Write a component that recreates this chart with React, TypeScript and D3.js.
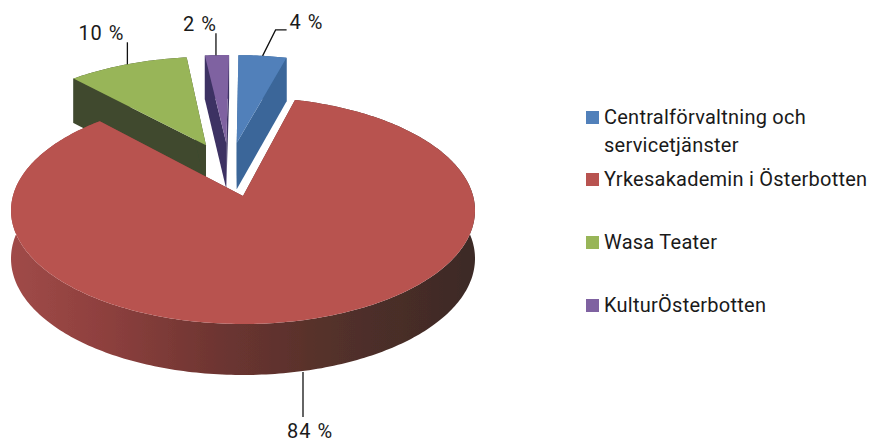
import React from "react";
import * as d3 from "d3";

const categories = ["Centralförvaltning och servicetjänster", "Yrkesakademin i Österbotten", "Wasa Teater", "KulturÖsterbotten"];
const legendLines = [["Centralförvaltning och", "servicetjänster"], ["Yrkesakademin i Österbotten"], ["Wasa Teater"], ["KulturÖsterbotten"]];
const shares = [4, 84, 10, 2];
const labels = ["4 %", "84 %", "10 %", "2 %"];
const topColors = ["#5180ba", "#b85350", "#98b558", "#7f62a1"];
const sideColors = ["#3a6699", "url(#redSide)", "#3f4a2e", "#3d3263"];
const legendY = [111, 173, 236, 299];

// projection parameters of the tilted, exploded disc
const W = 873, H = 445;
const CX = 243, CY = 210.5, RX = 232, RY = 113.5, K = 0.128;
const EXPLODE = 0.257, DEPTH = 51, FONT = "Roboto, 'Noto Sans', sans-serif";

const pie = d3.pie<number>().sort(null).startAngle((0.3 * Math.PI) / 180).endAngle((360.3 * Math.PI) / 180);
const arcs = pie(shares);
const mid = (a: d3.PieArcDatum<number>) => (a.startAngle + a.endAngle) / 2;
const redMid = mid(arcs[1]);

type P = [number, number];
const offset = (a: d3.PieArcDatum<number>): P => [
  EXPLODE * (Math.sin(mid(a)) - Math.sin(redMid)),
  EXPLODE * (Math.cos(mid(a)) - Math.cos(redMid)),
];
// unit-disc point -> screen point, with optional drop for the pie's thickness
const project = (u: number, v: number, drop = false): P => {
  const d = 1 + K * v;
  const x = CX + (RX * u * Math.sqrt(1 - K * K)) / d;
  const y = CY - (RY * (v + K)) / d;
  return [x, drop ? y + DEPTH * Math.sqrt((1 - K) / d) : y];
};
const rimPoint = (a: d3.PieArcDatum<number>, t: number, drop = false): P => {
  const [ou, ov] = offset(a);
  return project(ou + Math.sin(t), ov + Math.cos(t), drop);
};
const apex = (a: d3.PieArcDatum<number>, drop = false): P => {
  const [ou, ov] = offset(a);
  return project(ou, ov, drop);
};
const rim = (a: d3.PieArcDatum<number>, drop = false): P[] => {
  const n = Math.max(8, Math.ceil((a.endAngle - a.startAngle) * 60));
  return d3.range(n + 1).map((i) => rimPoint(a, a.startAngle + ((a.endAngle - a.startAngle) * i) / n, drop));
};
const line = d3.line<P>().x((d) => d[0]).y((d) => d[1]);
const closed = (pts: P[]) => line(pts) + "Z";

const topPath = (a: d3.PieArcDatum<number>) => closed([apex(a), ...rim(a)]);
const rimFace = (a: d3.PieArcDatum<number>) => closed([...rim(a), ...rim(a, true).reverse()]);
const cutFace = (a: d3.PieArcDatum<number>, t: number) =>
  closed([apex(a), rimPoint(a, t), rimPoint(a, t, true), apex(a, true)]);

// back-to-front: green, purple, blue, red
const drawOrder = [2, 3, 0, 1];

// leaders: start on the slice's rim at its bisector
const leaderAnchor = (i: number): P => {
  const [x, y] = rimPoint(arcs[i], mid(arcs[i]), i === 1);
  return i === 1 ? [x - 4, y + 1.5] : i === 3 ? [x - 1, y] : [x, y];
};
const leaderPaths: P[][] = arcs.map((_, i) => {
  const [x, y] = leaderAnchor(i);
  if (i === 0) return [[x, y], [x + 13, y - 26], [x + 24, y - 26]];
  if (i === 1) return [[x, y], [x, y + 45]];
  return [[x, y], [x, y - 22]];
});
const labelOffset: P[] = [[27, -27], [-16, 66], [-49, -24], [-33, -24]];

export default function App() {
  return (
    <svg width={W} height={H} style={{ position: "absolute", left: 0, top: 0, background: "#fff" }}>
      <defs>
        <linearGradient id="redSide" gradientUnits="userSpaceOnUse" x1={11} x2={474} y1={0} y2={0}>
          <stop offset="0" stopColor="#a04a48" />
          <stop offset="0.2" stopColor="#8e403e" />
          <stop offset="0.45" stopColor="#6d3531" />
          <stop offset="0.7" stopColor="#53302a" />
          <stop offset="1" stopColor="#3c2a26" />
        </linearGradient>
        <filter id="soft" x="-5%" y="-5%" width="110%" height="110%">
          <feGaussianBlur stdDeviation="0.5" />
        </filter>
      </defs>
      <g filter="url(#soft)">
        {drawOrder.map((i) => {
          const a = arcs[i];
          return (
            <g key={categories[i]}>
              <path d={rimFace(a)} fill={sideColors[i]} />
              <path d={cutFace(a, a.startAngle)} fill={sideColors[i]} />
              <path d={cutFace(a, a.endAngle)} fill={sideColors[i]} />
              <path d={topPath(a)} fill={topColors[i]} />
            </g>
          );
        })}
      </g>
      {leaderPaths.map((pts, i) => (
        <path key={i} d={line(pts)!} fill="none" stroke="#111" strokeWidth={1.3} />
      ))}
      {labels.map((t, i) => {
        const [x, y] = leaderAnchor(i);
        return (
          <text key={t} x={x + labelOffset[i][0]} y={y + labelOffset[i][1]} fontFamily={FONT} fontSize={20} letterSpacing={1} fill="#1a1a1a">
            {t}
          </text>
        );
      })}
      {categories.map((c, i) => (
        <g key={c}>
          <rect x={586} y={legendY[i]} width={13} height={13} fill={topColors[i]} />
          {legendLines[i].map((t, j) => (
            <text key={t} x={604} y={legendY[i] + 13 + j * 28} fontFamily={FONT} fontSize={20} letterSpacing={0.25} fill="#1a1a1a">
              {t}
            </text>
          ))}
        </g>
      ))}
    </svg>
  );
}
